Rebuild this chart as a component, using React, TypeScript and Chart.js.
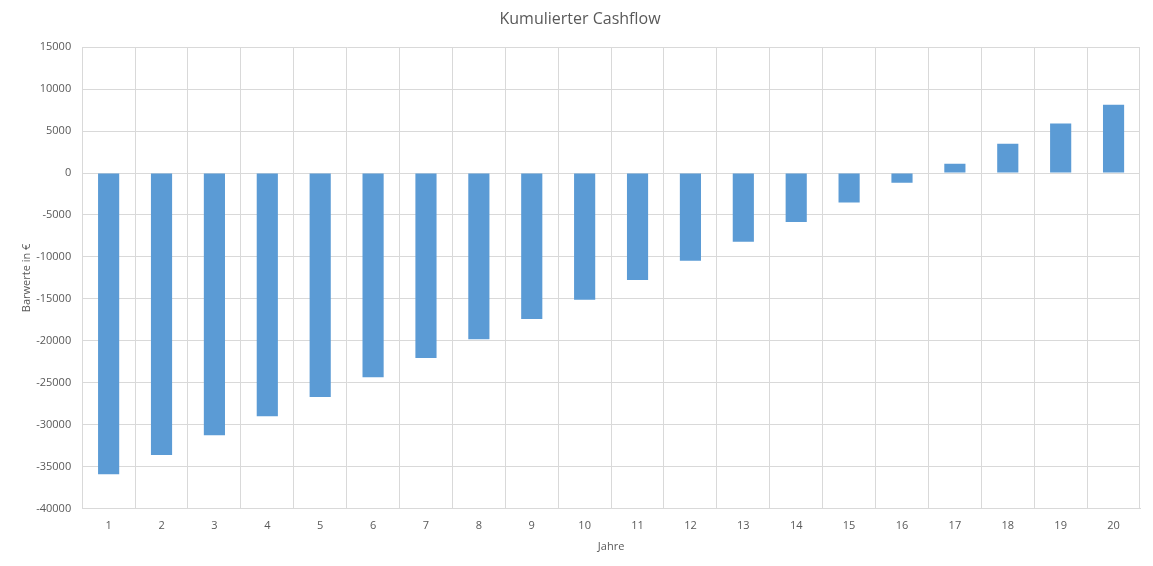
import React, { useEffect, useRef } from "react";
import { Chart, registerables } from "chart.js";

Chart.register(...registerables);

const years = ["1","2","3","4","5","6","7","8","9","10","11","12","13","14","15","16","17","18","19","20"];
const cashflow = [-35900,-33600,-31250,-29000,-26700,-24350,-22050,-19800,-17400,-15100,-12750,-10450,-8200,-5850,-3500,-1150,1100,3500,5900,8150];
const titleText = "Kumulierter Cashflow";
const yTitle = "Barwerte in €";
const xTitle = "Jahre";

export default function App() {
  const ref = useRef<HTMLCanvasElement>(null);
  useEffect(() => {
    document.body.style.margin = "0";
    const c = new Chart(ref.current!, {
      type: "bar",
      data: {
        labels: years,
        datasets: [{ data: cashflow, backgroundColor: "#5B9BD5", categoryPercentage: 1, barPercentage: 0.4 }],
      },
      options: {
        animation: false,
        responsive: false,
        layout: { padding: { top: 10, left: 20, right: 13, bottom: 13 } },
        plugins: {
          legend: { display: false },
          tooltip: { enabled: false },
          title: { display: true, text: titleText, color: "#595959", font: { family: "Open Sans", size: 16, weight: "normal" }, padding: { top: 0, bottom: 18 } },
        },
        scales: {
          x: {
            grid: { color: "#D9D9D9", drawTicks: false, offset: true },
            border: { color: "#D9D9D9" },
            ticks: { color: "#595959", font: { family: "Open Sans", size: 11 }, padding: 11 },
            title: { display: true, text: xTitle, color: "#595959", font: { family: "Open Sans", size: 11 }, padding: { top: -4, bottom: 0 } },
          },
          y: {
            min: -40000, max: 15000,
            grid: { color: "#D9D9D9", drawTicks: false },
            border: { color: "#D9D9D9" },
            ticks: { stepSize: 5000, color: "#595959", font: { family: "Open Sans", size: 11 }, padding: 11, callback: (v: any) => String(v) },
            title: { display: true, text: yTitle, color: "#595959", font: { family: "Open Sans", size: 11 }, padding: { top: 0, bottom: -8 } },
          },
        },
      },
    });
    return () => c.destroy();
  }, []);
  return <canvas ref={ref} width={1153} height={566} style={{ display: "block" }} />;
}
